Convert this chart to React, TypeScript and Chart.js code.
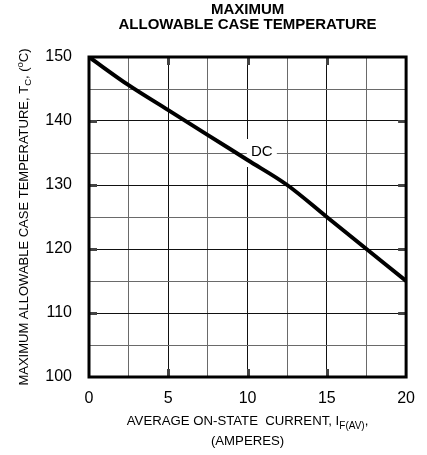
import React, { useEffect, useRef } from 'react';
import { Chart, registerables } from 'chart.js';

Chart.register(...registerables);

// ---- data ----
const currentA = [0, 2.5, 5, 7.5, 10, 12.5, 15, 17.5, 20];
const caseTempC = [150, 145.6, 141.7, 137.8, 133.9, 130.0, 125, 120, 115];
const titleLines = ['MAXIMUM', 'ALLOWABLE CASE TEMPERATURE'];
const xTitleMain = 'AVERAGE ON-STATE  CURRENT, I';
const xTitleSub = 'F(AV)';
const xTitleLine2 = '(AMPERES)';
const yTitleMain = 'MAXIMUM ALLOWABLE CASE TEMPERATURE, T';
const yTitleSub = 'C';
const curveLabel = 'DC';
const curveLabelX = 10.9;
const curveLabelY = 135;

const FONT = '"Liberation Sans", Arial, Helvetica, sans-serif';

const decorPlugin = {
  id: 'decor',
  beforeDatasetsDraw(chart: any) {
    const ctx = chart.ctx;
    const xs = chart.scales.x;
    const ys = chart.scales.y;
    const cx = xs.getPixelForValue(curveLabelX);
    const cy = ys.getPixelForValue(curveLabelY);
    ctx.save();
    ctx.fillStyle = '#fff';
    ctx.fillRect(cx - 15, cy - 14, 30, 28);
    ctx.fillStyle = '#000';
    ctx.font = `15px ${FONT}`;
    ctx.textAlign = 'center';
    ctx.textBaseline = 'middle';
    ctx.fillText(curveLabel, cx, cy - 1);
    ctx.restore();
  },
  afterDraw(chart: any) {
    const ctx = chart.ctx;
    const a = chart.chartArea;
    const xs = chart.scales.x;
    const ys = chart.scales.y;
    ctx.save();
    // inward major tick marks
    ctx.strokeStyle = '#444';
    ctx.lineWidth = 3;
    const tl = 8;
    [5, 10, 15].forEach((v) => {
      const px = Math.round(xs.getPixelForValue(v)) + 0.5;
      ctx.beginPath();
      ctx.moveTo(px, a.top);
      ctx.lineTo(px, a.top + tl);
      ctx.moveTo(px, a.bottom);
      ctx.lineTo(px, a.bottom - tl);
      ctx.stroke();
    });
    [110, 120, 130, 140].forEach((v) => {
      const py = Math.round(ys.getPixelForValue(v)) + 0.5;
      ctx.beginPath();
      ctx.moveTo(a.left, py);
      ctx.lineTo(a.left + tl, py);
      ctx.moveTo(a.right, py);
      ctx.lineTo(a.right - tl, py);
      ctx.stroke();
    });
    // frame
    ctx.strokeStyle = '#000';
    ctx.lineWidth = 3;
    ctx.strokeRect(a.left, a.top, a.right - a.left, a.bottom - a.top);

    const midX = (a.left + a.right) / 2;
    // title
    ctx.fillStyle = '#000';
    ctx.textAlign = 'center';
    ctx.textBaseline = 'alphabetic';
    ctx.font = `bold 15px ${FONT}`;
    ctx.fillText(titleLines[0], midX, 14);
    ctx.fillText(titleLines[1], midX, 29);

    // x title
    const mainF = `13.2px ${FONT}`;
    const subF = `10px ${FONT}`;
    ctx.font = mainF;
    const w1 = ctx.measureText(xTitleMain).width;
    const w3 = ctx.measureText(',').width;
    ctx.font = subF;
    const w2 = ctx.measureText(xTitleSub).width;
    const total = w1 + w2 + w3;
    const x0 = midX - total / 2;
    ctx.textAlign = 'left';
    ctx.font = mainF;
    ctx.fillText(xTitleMain, x0, 425);
    ctx.font = subF;
    ctx.fillText(xTitleSub, x0 + w1, 429);
    ctx.font = mainF;
    ctx.fillText(',', x0 + w1 + w2, 425);
    ctx.textAlign = 'center';
    ctx.fillText(xTitleLine2, midX, 445);

    // y title (rotated)
    const midY = (a.top + a.bottom) / 2;
    ctx.translate(28, midY);
    ctx.rotate(-Math.PI / 2);
    ctx.textAlign = 'left';
    const yMainF = `13px ${FONT}`;
    const ySubF = `9.5px ${FONT}`;
    ctx.font = yMainF;
    const p1 = ctx.measureText(yTitleMain).width;
    const p3 = ctx.measureText(', (').width;
    const p5 = ctx.measureText('C)').width;
    ctx.font = ySubF;
    const p2 = ctx.measureText(yTitleSub).width;
    const p4 = ctx.measureText('o').width;
    const tot = p1 + p2 + p3 + p4 + p5;
    let s = -tot / 2;
    ctx.font = yMainF;
    ctx.fillText(yTitleMain, s, 0);
    s += p1;
    ctx.font = ySubF;
    ctx.fillText(yTitleSub, s, 3);
    s += p2;
    ctx.font = yMainF;
    ctx.fillText(', (', s, 0);
    s += p3;
    ctx.font = ySubF;
    ctx.fillText('o', s, -5);
    s += p4;
    ctx.font = yMainF;
    ctx.fillText('C)', s, 0);
    ctx.restore();
  },
};

export default function App() {
  const ref = useRef<HTMLCanvasElement>(null);
  useEffect(() => {
    if (!ref.current) return;
    const chart = new Chart(ref.current, {
      type: 'line',
      data: {
        datasets: [
          {
            data: currentA.map((x, i) => ({ x, y: caseTempC[i] })),
            borderColor: '#000',
            borderWidth: 4,
            pointRadius: 0,
            cubicInterpolationMode: 'monotone',
            fill: false,
          },
        ],
      },
      options: {
        responsive: false,
        animation: false,
        devicePixelRatio: 1,
        layout: { padding: { top: 57, right: 19, left: 0, bottom: 0 } },
        plugins: { legend: { display: false }, tooltip: { enabled: false }, title: { display: false } },
        scales: {
          x: {
            type: 'linear',
            min: 0,
            max: 20,
            afterFit: (s: any) => { s.height = 78; },
            grid: {
              drawTicks: false,
              color: (c: any) => (c.tick && c.tick.value % 5 === 0 ? '#111' : '#6a6a6a'),
              lineWidth: 1,
            },
            border: { display: false },
            ticks: {
              stepSize: 2.5,
              autoSkip: false,
              maxRotation: 0,
              padding: 12,
              color: '#000',
              font: { family: FONT, size: 16 },
              callback: (v: any) => (Number(v) % 5 === 0 ? String(v) : ''),
            },
          },
          y: {
            type: 'linear',
            min: 100,
            max: 150,
            afterFit: (s: any) => { s.width = 89; },
            grid: {
              drawTicks: false,
              color: (c: any) => (c.tick && c.tick.value % 10 === 0 ? '#111' : '#6a6a6a'),
              lineWidth: 1,
            },
            border: { display: false },
            ticks: {
              stepSize: 5,
              autoSkip: false,
              padding: 17,
              color: '#000',
              font: { family: FONT, size: 16 },
              callback: (v: any) => (Number(v) % 10 === 0 ? String(v) : ''),
            },
          },
        },
      },
      plugins: [decorPlugin],
    } as any);
    return () => chart.destroy();
  }, []);
  return (
    <div style={{ position: 'fixed', left: 0, top: 0, width: 427, height: 455, background: '#fff' }}>
      <canvas ref={ref} width={427} height={455} style={{ display: 'block' }} />
    </div>
  );
}
